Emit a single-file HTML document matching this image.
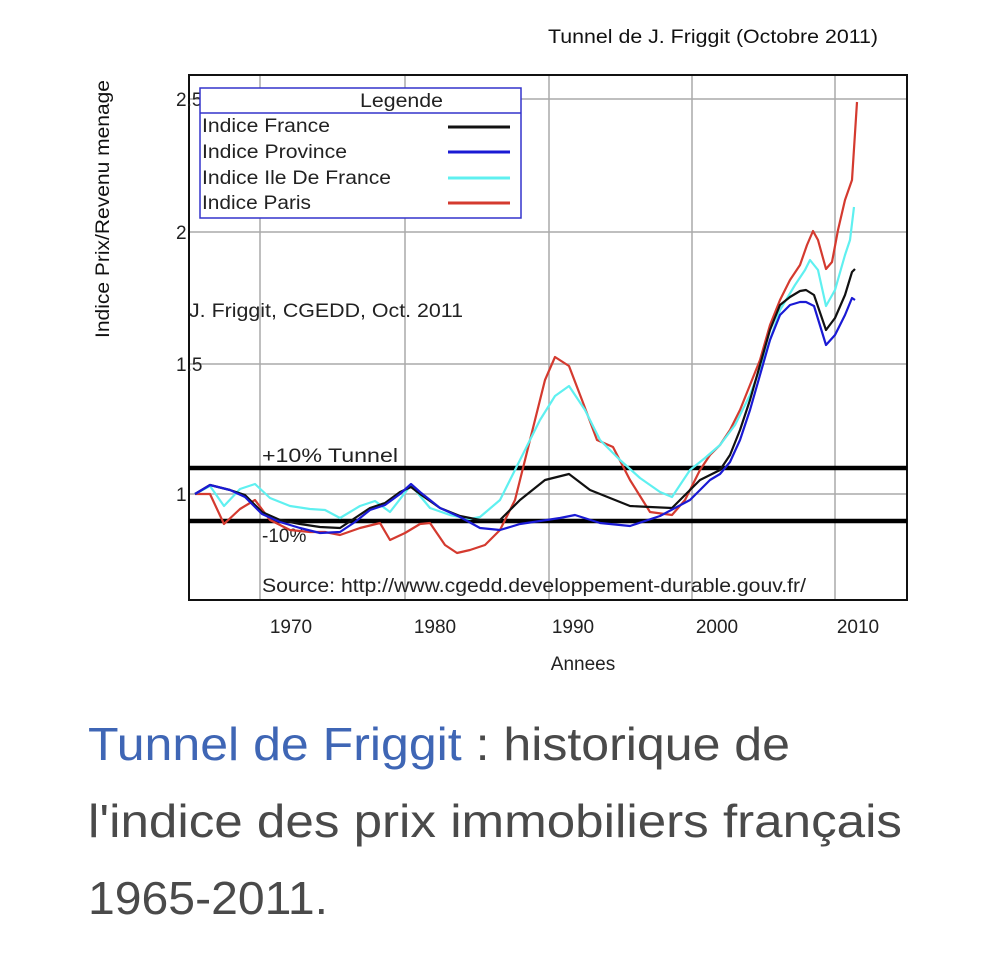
<!DOCTYPE html>
<html><head><meta charset="utf-8"><style>
html,body{margin:0;padding:0;background:#fff;width:985px;height:953px;overflow:hidden}
svg{position:absolute;left:0;top:0}
</style></head><body>
<svg width="985" height="953" viewBox="0 0 985 953" font-family="Liberation Sans, sans-serif">
<text x="548" y="43" font-size="19" fill="#111" textLength="330" lengthAdjust="spacingAndGlyphs">Tunnel de J. Friggit (Octobre 2011)</text>
<text transform="translate(109,209) rotate(-90)" font-size="19" text-anchor="middle" fill="#111" textLength="258" lengthAdjust="spacingAndGlyphs">Indice Prix/Revenu menage</text>
<g stroke="#aaa" stroke-width="1.5">
<line x1="260" y1="75" x2="260" y2="600"/><line x1="405" y1="75" x2="405" y2="600"/>
<line x1="549" y1="75" x2="549" y2="600"/><line x1="692" y1="75" x2="692" y2="600"/>
<line x1="835" y1="75" x2="835" y2="600"/>
<line x1="189" y1="99" x2="907" y2="99"/><line x1="189" y1="232" x2="907" y2="232"/>
<line x1="189" y1="364" x2="907" y2="364"/><line x1="189" y1="494" x2="907" y2="494"/>
</g>
<rect x="189" y="75" width="718" height="525" fill="none" stroke="#111" stroke-width="2"/>
<g font-size="19" fill="#222">
<text x="176" y="106">2.5</text><text x="176" y="239">2</text><text x="176" y="371">1.5</text><text x="176" y="501">1</text>
<text x="291" y="633" text-anchor="middle">1970</text><text x="435" y="633" text-anchor="middle">1980</text>
<text x="573" y="633" text-anchor="middle">1990</text><text x="717" y="633" text-anchor="middle">2000</text>
<text x="858" y="633" text-anchor="middle">2010</text>
<text x="583" y="670" text-anchor="middle">Annees</text>
<text x="189" y="317" textLength="274" lengthAdjust="spacingAndGlyphs">J. Friggit, CGEDD, Oct. 2011</text>
<text x="262" y="462" textLength="136" lengthAdjust="spacingAndGlyphs">+10%   Tunnel</text>
<text x="262" y="542">-10%</text>
<text x="262" y="592" textLength="544" lengthAdjust="spacingAndGlyphs">Source: http://www.cgedd.developpement-durable.gouv.fr/</text>
</g>
<line x1="189" y1="468" x2="907" y2="468" stroke="#000" stroke-width="4.5"/>
<line x1="189" y1="521" x2="907" y2="521" stroke="#000" stroke-width="4.5"/>
<g fill="none" stroke-width="2.2" stroke-linejoin="round">
<polyline stroke="#d43a2f" points="195,494 210,494 224,524 240,509 255,500 270,520 290,530 310,532 325,532 340,535 360,528 380,523 390,540 405,533 420,524 430,523 445,545 457,553 470,550 485,545 500,530 515,500 530,440 545,380 555,357 569,366 582,400 597,440 613,447 630,480 650,512 672,515 685,500 700,470 710,455 720,445 730,430 740,410 750,385 760,360 770,325 780,300 790,280 800,265 807,245 813,231 818,240 826,269 832,262 838,230 845,200 852,180 857,102"/>
<polyline stroke="#5ff0f0" points="195,494 210,486 224,506 240,489 255,484 270,498 290,506 310,509 325,510 340,518 360,506 375,501 390,512 411,485 430,508 450,515 470,519 480,517 500,500 520,460 540,420 555,396 569,386 585,410 600,440 620,460 640,478 660,492 672,497 690,470 705,458 720,445 735,425 750,395 765,355 780,310 795,285 805,270 810,260 818,270 826,306 835,290 845,255 850,240 854,207"/>
<polyline stroke="#111" points="195,494 210,485 230,490 245,495 262,512 280,520 300,524 320,527 340,528 355,518 370,508 385,503 400,492 411,487 420,494 440,508 460,516 480,520 500,520 520,500 545,480 569,474 590,490 610,498 630,506 650,507 672,508 690,490 700,480 710,475 720,470 730,455 740,430 750,400 760,365 770,330 780,305 790,297 800,291 806,290 814,295 826,330 835,318 845,295 852,272 855,269"/>
<polyline stroke="#1a1ad4" points="195,494 210,485 230,490 245,497 262,514 280,522 300,528 320,533 340,532 355,522 370,510 385,505 400,494 411,484 420,492 440,508 460,517 480,528 500,530 520,524 540,521 560,518 575,515 600,523 630,526 660,516 690,500 700,490 710,480 720,474 730,462 740,440 750,410 760,375 770,340 780,315 790,305 800,302 806,302 814,306 826,345 835,335 845,315 852,298 855,300"/>
</g>
<rect x="200" y="88" width="321" height="130" fill="#fff" stroke="#3333cc" stroke-width="1.5"/>
<line x1="200" y1="113" x2="521" y2="113" stroke="#3333cc" stroke-width="1.5"/>
<g font-size="19" fill="#222">
<text x="360" y="107" textLength="83" lengthAdjust="spacingAndGlyphs">Legende</text>
<text x="202" y="132" textLength="128" lengthAdjust="spacingAndGlyphs">Indice France</text>
<text x="202" y="158" textLength="145" lengthAdjust="spacingAndGlyphs">Indice Province</text>
<text x="202" y="184" textLength="189" lengthAdjust="spacingAndGlyphs">Indice Ile De France</text>
<text x="202" y="209" textLength="109" lengthAdjust="spacingAndGlyphs">Indice Paris</text>
</g>
<g stroke-width="3"><line x1="448" y1="127" x2="510" y2="127" stroke="#111"/><line x1="448" y1="152" x2="510" y2="152" stroke="#1a1ad4"/><line x1="448" y1="178" x2="510" y2="178" stroke="#5ff0f0"/><line x1="448" y1="203" x2="510" y2="203" stroke="#d43a2f"/></g>
<g font-size="46" fill="#4a4a4a">
<text x="88" y="760" textLength="702" lengthAdjust="spacingAndGlyphs"><tspan fill="#3f66b5">Tunnel de Friggit</tspan> : historique de</text>
<text x="88" y="837" textLength="814" lengthAdjust="spacingAndGlyphs">l'indice des prix immobiliers français</text>
<text x="88" y="914" textLength="240" lengthAdjust="spacingAndGlyphs">1965-2011.</text>
</g>
</svg>
</body></html>
